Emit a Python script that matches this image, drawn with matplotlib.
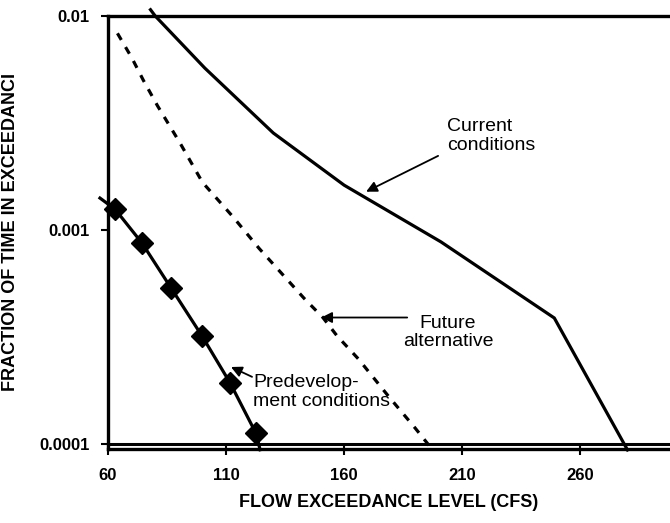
import matplotlib.pyplot as plt
from matplotlib.ticker import FixedLocator, NullLocator

plt.rcParams['font.family'] = ['Liberation Sans', 'DejaVu Sans']

# flow exceedance level (cfs) vs fraction of time in exceedance
current_flow = [78, 80, 101, 130, 160, 201, 249, 280]
current_frac = [0.0107, 0.0100, 0.00571, 0.00284, 0.00162, 0.00088, 0.000388, 0.0000938]

future_flow = [64, 70, 75, 81, 90.5, 100, 113, 124, 143, 151, 157, 166, 179, 190, 196.5]
future_frac = [0.0083, 0.0064, 0.0050, 0.0038, 0.00255, 0.00167, 0.00115, 0.00082,
               0.00048, 0.00039, 0.00032, 0.00025, 0.000166, 0.000119, 0.0000968]

pre_flow = [56.6, 63, 74.4, 86.7, 99.8, 111.7, 122.7, 124.4]
pre_frac = [0.00141, 0.00125, 0.000869, 0.000536, 0.00032, 0.000193, 0.000112, 0.000094]

x_ticks = [60, 110, 160, 210, 260]
y_ticks = [0.0001, 0.001, 0.01]
y_tick_labels = ['0.0001', '0.001', '0.01']

fig = plt.figure(figsize=(6.7, 5.23), dpi=100)
ax = fig.add_axes([108 / 670, 1 - 448.5 / 523, 1 - 108 / 670, (448.5 - 16) / 523])

ax.set_yscale('log')
ax.set_xlim(60, 298)
ax.set_ylim(10 ** -4.021, 0.01)

ax.plot(current_flow, current_frac, color='black', lw=2.3, clip_on=False,
        solid_joinstyle='miter')
ax.plot(future_flow, future_frac, color='black', lw=2.3, ls=(0, (2.4, 2.6)),
        clip_on=False)
ax.plot(pre_flow, pre_frac, color='black', lw=2.3, marker='D', markersize=11,
        markevery=[1, 2, 3, 4, 5, 6], clip_on=False)

ax.axhline(0.0001, color='black', lw=2.2)

for side in ['left', 'top', 'bottom']:
    ax.spines[side].set_linewidth(2.4)
ax.spines['right'].set_visible(False)

ax.xaxis.set_major_locator(FixedLocator(x_ticks))
ax.set_xticklabels([str(t) for t in x_ticks], fontsize=12, fontweight='bold')
ax.yaxis.set_major_locator(FixedLocator(y_ticks))
ax.yaxis.set_minor_locator(NullLocator())
ax.set_yticklabels(y_tick_labels, fontsize=12, fontweight='bold')
ax.tick_params(axis='x', direction='inout', length=8, width=1.5, pad=10)
ax.tick_params(axis='y', direction='out', length=5, width=1.5, pad=8)

ax.set_xlabel('FLOW EXCEEDANCE LEVEL (CFS)', fontsize=13, fontweight='bold',
              labelpad=8)
ax.set_ylabel('FRACTION OF TIME IN EXCEEDANCI', fontsize=13, fontweight='bold')
ax.yaxis.set_label_coords(-0.158, 0.5)

arrow = dict(arrowstyle='-|>', color='black', lw=1.3, mutation_scale=16,
             shrinkA=0, shrinkB=0)
ax.annotate('', xy=(169.3, 0.00151), xytext=(199.8, 0.00222), arrowprops=arrow)
ax.text(203.6, 0.00275, 'Current\nconditions', fontsize=14, ha='left',
        va='center', linespacing=1.1)

ax.annotate('', xy=(150.3, 0.00039), xytext=(186.7, 0.00039), arrowprops=arrow)
ax.text(204, 0.000333, 'Future\nalternative', fontsize=14, ha='center',
        va='center', linespacing=1.1)

ax.annotate('', xy=(112.1, 0.000229), xytext=(121, 0.000206), arrowprops=arrow)
ax.text(121.4, 0.000175, 'Predevelop-\nment conditions', fontsize=14, ha='left',
        va='center', linespacing=1.1)

fig.savefig('out.png', dpi=100)
